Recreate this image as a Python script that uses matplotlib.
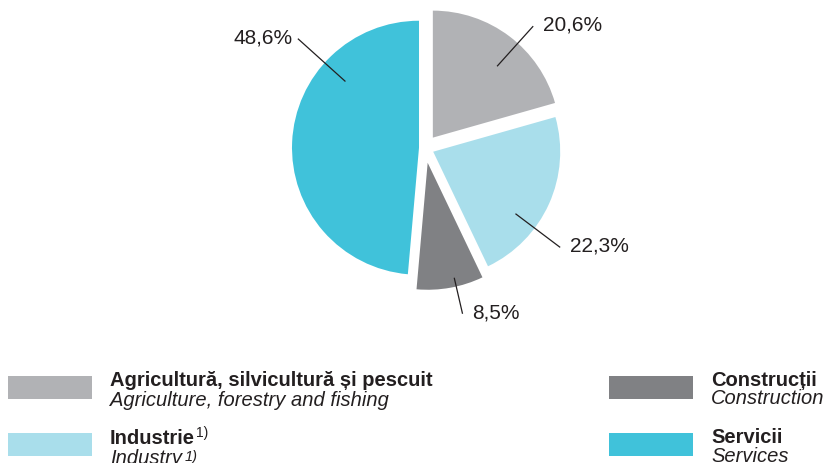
import math
import matplotlib
matplotlib.use('Agg')
import matplotlib.pyplot as plt
from matplotlib.patches import Rectangle

plt.rcParams['font.family'] = ['Liberation Sans', 'DejaVu Sans']

# ---- data ----
shares = [20.6, 22.3, 8.5, 48.6]
value_labels = ['20,6%', '22,3%', '8,5%', '48,6%']
names_ro = ['Agricultură, silvicultură și pescuit', 'Industrie', 'Construcții', 'Servicii']
names_en = ['Agriculture, forestry and fishing', 'Industry', 'Construction', 'Services']
footnotes = ['', '1)', '', '']
colors = ['#b1b2b5', '#a9deeb', '#808184', '#40c2da']

# ---- layout ----
W, H = 823, 463
TXT = '#231f20'
fig = plt.figure(figsize=(W / 100, H / 100), dpi=100)
ax = fig.add_axes([0, 0, 1, 1])

R = 127
center = (425, H - 148)
explode = [13, 9, 15, 6]
wedges, _ = ax.pie(shares, colors=colors, startangle=90, counterclock=False,
                   radius=R, center=center, explode=explode,
                   wedgeprops=dict(linewidth=0))
ax.set_xlim(0, W)
ax.set_ylim(0, H)
ax.set_aspect('equal')
ax.axis('off')

# leader lines + value labels
label_angles = [48, -37, -77, 138]
r_in, r_out = [96, 103, 118, 99], [150, 159, 155, 163]
for w, lab, a, ri, ro in zip(wedges, value_labels, label_angles, r_in, r_out):
    cx, cy = w.center
    t = math.radians(a)
    x0, y0 = cx + ri * math.cos(t), cy + ri * math.sin(t)
    x1, y1 = cx + ro * math.cos(t), cy + ro * math.sin(t)
    ax.plot([x0, x1], [y0, y1], color=TXT, lw=0.9, solid_capstyle='butt')
    right = math.cos(t) >= 0
    ax.text(x1 + (10 if right else -5), y1 + 1, lab,
            ha='left' if right else 'right', va='center',
            fontsize=15, color=TXT)

# legend
legend_pos = [(8, 376), (8, 433), (609, 376), (609, 433)]
base_off = [(10, 29.5), (11.5, 30.5), (9.5, 28.5), (10, 28.5)]
fig.canvas.draw()
renderer = fig.canvas.get_renderer()
for (lx, ly), (b1, b2), c, ro, en, fn in zip(legend_pos, base_off, colors,
                                             names_ro, names_en, footnotes):
    ax.add_patch(Rectangle((lx, H - ly - 23), 84, 23, color=c, lw=0))
    tx = lx + 102
    t1 = ax.text(tx, H - (ly + b1), ro, ha='left', va='baseline',
                 fontsize=14.5, fontweight='bold', color=TXT)
    t2 = ax.text(tx, H - (ly + b2), en, ha='left', va='baseline',
                 fontsize=14.5, fontstyle='italic', color=TXT)
    if fn:
        inv = ax.transData.inverted()
        e1 = t1.get_window_extent(renderer)
        xe = inv.transform((e1.x1, 0))[0]
        ax.text(xe + 1, H - (ly + b1 - 7), fn, ha='left', va='baseline',
                fontsize=10, color=TXT)
        e2 = t2.get_window_extent(renderer)
        xe2 = inv.transform((e2.x1, 0))[0]
        ax.text(xe2 + 3, H - (ly + b2 - 3), fn, ha='left', va='baseline',
                fontsize=10.5, fontstyle='italic', color=TXT)

fig.savefig('out.png', dpi=100)
